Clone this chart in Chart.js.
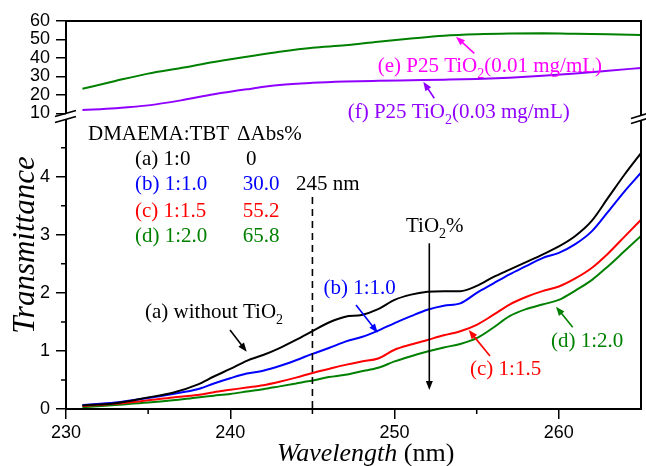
<!DOCTYPE html>
<html><head><meta charset="utf-8">
<script src="https://cdn.jsdelivr.net/npm/chart.js@4"></script>
<style>html,body{margin:0;padding:0;background:#fff}canvas{display:block}</style>
</head><body>
<canvas id="c" width="646" height="466"></canvas>
<script>
// ---- data ----
const wavelengths = [231,233,235,236.5,238,239,240,241,242,243,244,245,246,247,248,249,250,251,252,253,254,255,256,257,258,259,260,261,262,263,264,265];
const seriesA = [0.06,0.10,0.20,0.28,0.42,0.56,0.69,0.83,0.93,1.05,1.19,1.34,1.49,1.59,1.62,1.72,1.88,1.97,2.02,2.03,2.03,2.12,2.27,2.40,2.53,2.66,2.80,2.98,3.24,3.64,4.04,4.41];
const seriesB = [0.07,0.11,0.19,0.26,0.34,0.44,0.53,0.61,0.66,0.74,0.84,0.95,1.05,1.16,1.24,1.35,1.48,1.60,1.71,1.78,1.82,2.00,2.16,2.32,2.46,2.60,2.69,2.84,3.06,3.40,3.75,4.07];
const seriesC = [0.05,0.09,0.15,0.20,0.24,0.29,0.33,0.37,0.41,0.47,0.54,0.62,0.69,0.76,0.82,0.87,1.02,1.11,1.19,1.27,1.34,1.45,1.62,1.80,1.93,2.03,2.11,2.25,2.43,2.68,2.97,3.26];
const seriesD = [0.03,0.07,0.11,0.15,0.20,0.23,0.26,0.30,0.34,0.39,0.44,0.49,0.55,0.59,0.65,0.71,0.82,0.91,0.99,1.06,1.12,1.22,1.40,1.60,1.72,1.80,1.88,2.04,2.22,2.46,2.72,2.98];
const topWavelengths = [231,233,235,237,239,241,243,245,247,249,251,253,255,257,259,261,263,265];
const seriesE = [23.3,27.5,31.5,34.5,37.8,40.6,43.3,45.5,46.8,48.8,50.5,52.0,52.8,53.2,53.3,53.1,52.8,52.4];
const seriesF = [11.8,12.8,14.3,17.0,20.3,23.0,25.3,26.5,27.2,27.6,27.9,28.2,28.6,29.3,30.3,31.5,33.0,34.6];
const xTicks = [230,240,250,260];
const xMinorTicks = [235,245,255];
const yTicksLower = [0,1,2,3,4];
const yMinorLower = [0.5,1.5,2.5,3.5,4.5];
const yTicksUpper = [10,20,30,40,50,60];
const markerWavelength = 245;

function pts(xs, ys){ return xs.map((x,i)=>({x:x, y:ys[i]})); }

const GREEN = '#008000', PURPLE = '#9000ff', MAGENTA = '#ff00ff';

function rich(ctx, parts, x, y, color, size) {
  size = size || 21;
  ctx.fillStyle = color; ctx.textAlign = 'left'; ctx.textBaseline = 'alphabetic';
  let cx = x;
  for (const p of parts) {
    const s = (typeof p === 'string') ? {t:p} : p;
    const fs = s.sub ? Math.round(size*0.68) : size;
    ctx.font = (s.italic ? 'italic ' : '') + fs + 'px "Liberation Serif"';
    const dy = s.sub ? size*0.3 : 0;
    ctx.fillText(s.t, cx, y + dy);
    cx += ctx.measureText(s.t).width;
  }
  return cx;
}
function arrow(ctx, x1, y1, x2, y2, color) {
  const a = Math.atan2(y2-y1, x2-x1), hl = 9, hw = 3.5;
  ctx.save();
  ctx.strokeStyle = color; ctx.fillStyle = color; ctx.lineWidth = 1.6; ctx.setLineDash([]);
  ctx.beginPath(); ctx.moveTo(x1, y1); ctx.lineTo(x2 - Math.cos(a)*hl*0.7, y2 - Math.sin(a)*hl*0.7); ctx.stroke();
  ctx.beginPath(); ctx.moveTo(x2, y2);
  ctx.lineTo(x2 - hl*Math.cos(a) + hw*Math.sin(a), y2 - hl*Math.sin(a) - hw*Math.cos(a));
  ctx.lineTo(x2 - hl*Math.cos(a) - hw*Math.sin(a), y2 - hl*Math.sin(a) + hw*Math.cos(a));
  ctx.closePath(); ctx.fill();
  ctx.restore();
}

const annot = {
  id: 'annot',
  afterDraw(chart) {
    const ctx = chart.ctx, ca = chart.chartArea;
    const xs = chart.scales.x, ys = chart.scales.y;
    const L = ca.left, R = ca.right, T = ca.top, B = ca.bottom;
    ctx.save();
    // frame
    ctx.strokeStyle = '#000'; ctx.lineWidth = 2;
    ctx.beginPath();
    ctx.moveTo(L-1, T); ctx.lineTo(R+1, T);
    ctx.moveTo(L, T); ctx.lineTo(L, 113.5);
    ctx.moveTo(L, 119.5); ctx.lineTo(L, B);
    ctx.moveTo(R, T); ctx.lineTo(R, 115.5);
    ctx.moveTo(R, 120.5); ctx.lineTo(R, B);
    ctx.moveTo(L-1, B); ctx.lineTo(R+1, B);
    ctx.stroke();
    // break marks
    ctx.lineWidth = 1.8;
    ctx.beginPath();
    [113.5, 119.5].forEach(yb => { ctx.moveTo(L-11, yb+3); ctx.lineTo(L+10, yb-3); });
    [115.5, 120.5].forEach(yb => { ctx.moveTo(R-10, yb+3); ctx.lineTo(R+8, yb-2.5); });
    ctx.stroke();
    // minor ticks
    ctx.lineWidth = 1.5;
    ctx.beginPath();
    xMinorTicks.forEach(v => { const px = xs.getPixelForValue(v); ctx.moveTo(px, B); ctx.lineTo(px, B+5); });
    yMinorLower.forEach(v => { const py = ys.getPixelForValue(v); ctx.moveTo(L-5, py); ctx.lineTo(L, py); });
    ctx.stroke();
    // dashed 245 nm line
    ctx.setLineDash([7,5]); ctx.lineWidth = 1.6;
    const xd = xs.getPixelForValue(markerWavelength);
    ctx.beginPath(); ctx.moveTo(xd, 197); ctx.lineTo(xd, B); ctx.stroke();
    ctx.setLineDash([]);
    // table
    rich(ctx, ['DMAEMA:TBT'], 88, 139.5, '#000');
    rich(ctx, ['\u0394Abs%'], 237, 139.5, '#000');
    rich(ctx, ['(a) 1:0'], 135, 164.5, '#000');
    rich(ctx, ['0'], 246, 164.5, '#000');
    rich(ctx, ['(b) 1:1.0'], 135, 190, '#0000ff');
    rich(ctx, ['30.0'], 242.7, 190, '#0000ff');
    rich(ctx, ['(c) 1:1.5'], 135, 216.5, '#ff0000');
    rich(ctx, ['55.2'], 242.7, 216.5, '#ff0000');
    rich(ctx, ['(d) 1:2.0'], 135, 241.7, GREEN);
    rich(ctx, ['65.8'], 242.7, 241.7, GREEN);
    rich(ctx, ['245 nm'], 296, 190, '#000');
    // curve labels
    rich(ctx, ['(a) without TiO', {t:'2', sub:true}], 145, 318, '#000');
    arrow(ctx, 230, 330, 246.7, 351.7, '#000');
    rich(ctx, ['(b) 1:1.0'], 323.5, 294, '#0000ff');
    arrow(ctx, 356, 305, 377.7, 332.7, '#0000ff');
    rich(ctx, ['TiO', {t:'2', sub:true}, '%'], 406, 231.5, '#000');
    arrow(ctx, 429.3, 243.3, 429.3, 390, '#000');
    rich(ctx, ['(c) 1:1.5'], 470, 375, '#ff0000');
    arrow(ctx, 490, 356, 468.7, 330, '#ff0000');
    rich(ctx, ['(d) 1:2.0'], 551, 347, GREEN);
    arrow(ctx, 572.7, 327.3, 556, 306.7, GREEN);
    rich(ctx, ['(e) P25 TiO', {t:'2', sub:true}, '(0.01 mg/mL)'], 377.7, 71.5, MAGENTA);
    arrow(ctx, 474.3, 53.3, 456, 36.7, MAGENTA);
    rich(ctx, ['(f) P25 TiO', {t:'2', sub:true}, '(0.03 mg/mL)'], 347.7, 118, PURPLE);
    arrow(ctx, 434.3, 98.3, 423.3, 81.7, PURPLE);
    // axis titles
    rich(ctx, [{t:'Wavelength', italic:true}, ' (nm)'], 277, 461, '#000', 26);
    ctx.save();
    ctx.translate(33.5, 245); ctx.rotate(-Math.PI/2);
    ctx.font = 'italic 31px "Liberation Serif"'; ctx.fillStyle = '#000';
    ctx.textAlign = 'center'; ctx.textBaseline = 'alphabetic';
    ctx.fillText('Transmittance', 0, 0);
    ctx.restore();
    ctx.restore();
  }
};

const tickFont = {family: '"Liberation Sans", Arial, sans-serif', size: 18};
const gridOpt = {drawOnChartArea: false, drawTicks: true, tickLength: 10, color: '#000', lineWidth: 1.5};

new Chart(document.getElementById('c'), {
  type: 'line',
  data: {
    datasets: [
      {label: '(a) 1:0', data: pts(wavelengths, seriesA), borderColor: '#000', yAxisID: 'y'},
      {label: '(b) 1:1.0', data: pts(wavelengths, seriesB), borderColor: '#0000ff', yAxisID: 'y'},
      {label: '(c) 1:1.5', data: pts(wavelengths, seriesC), borderColor: '#ff0000', yAxisID: 'y'},
      {label: '(d) 1:2.0', data: pts(wavelengths, seriesD), borderColor: GREEN, yAxisID: 'y'},
      {label: '(e) P25 0.01', data: pts(topWavelengths, seriesE), borderColor: GREEN, yAxisID: 'y2'},
      {label: '(f) P25 0.03', data: pts(topWavelengths, seriesF), borderColor: PURPLE, yAxisID: 'y2'}
    ]
  },
  options: {
    responsive: false,
    animation: false,
    devicePixelRatio: 1,
    layout: {padding: {top: 21, right: 5, left: 0, bottom: 0}},
    elements: {line: {borderWidth: 2, cubicInterpolationMode: 'monotone', fill: false}, point: {radius: 0}},
    plugins: {legend: {display: false}, tooltip: {enabled: false}},
    scales: {
      x: {
        type: 'linear', position: 'bottom', min: 230, max: 265,
        afterBuildTicks: s => { s.ticks = xTicks.map(v => ({value: v})); },
        afterFit: s => { s.height = 57; },
        grid: gridOpt, border: {display: false},
        ticks: {color: '#000', font: tickFont, padding: 3, maxRotation: 0, autoSkip: false}
      },
      y: {
        type: 'linear', position: 'left', stack: 'v', stackWeight: 292, min: 0, max: 5.03,
        afterBuildTicks: s => { s.ticks = yTicksLower.map(v => ({value: v})); },
        afterFit: s => { s.width = 66; },
        grid: gridOpt, border: {display: false},
        ticks: {color: '#000', font: tickFont, padding: 6, autoSkip: false}
      },
      y2: {
        type: 'linear', position: 'left', stack: 'v', stackWeight: 96, min: 8, max: 60,
        afterBuildTicks: s => { s.ticks = yTicksUpper.map(v => ({value: v})); },
        afterFit: s => { s.width = 66; },
        grid: gridOpt, border: {display: false},
        ticks: {color: '#000', font: tickFont, padding: 6, autoSkip: false}
      }
    }
  },
  plugins: [annot]
});
</script>
</body></html>
